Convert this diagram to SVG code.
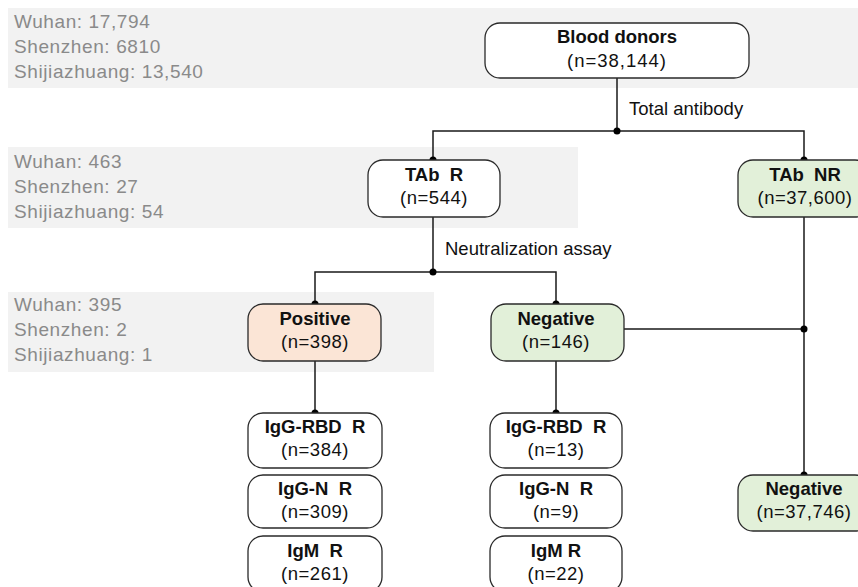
<svg xmlns="http://www.w3.org/2000/svg" width="858" height="587" viewBox="0 0 858 587">
<style>
.band{fill:#f2f2f2}
.gt{font-family:"Liberation Sans",Arial,sans-serif;font-size:19px;fill:#8a8a8a;letter-spacing:0.6px}
.box{stroke:#2a2a2a;stroke-width:1.3}
.w{fill:#ffffff}
.g{fill:#e2f0d9}
.p{fill:#fbe5d6}
.t{font-family:"Liberation Sans",Arial,sans-serif;font-size:18.5px;fill:#111;text-anchor:middle;white-space:pre}
.n{letter-spacing:0.5px}
.b{font-weight:bold}
.lbl{font-family:"Liberation Sans",Arial,sans-serif;font-size:18.5px;fill:#111}
.ln{stroke:#1a1a1a;stroke-width:1.5;fill:none}
.dot{fill:#000}
</style>
<g id="bands">
<rect class="band" x="8" y="8" width="850" height="80"/>
<rect class="band" x="8" y="147" width="570" height="81"/>
<rect class="band" x="8" y="292" width="426" height="80"/>
<text class="gt" x="14" y="28">Wuhan: 17,794</text>
<text class="gt" x="14" y="53">Shenzhen: 6810</text>
<text class="gt" x="14" y="78">Shijiazhuang: 13,540</text>
<text class="gt" x="14" y="168">Wuhan: 463</text>
<text class="gt" x="14" y="193">Shenzhen: 27</text>
<text class="gt" x="14" y="218">Shijiazhuang: 54</text>
<text class="gt" x="14" y="311">Wuhan: 395</text>
<text class="gt" x="14" y="336">Shenzhen: 2</text>
<text class="gt" x="14" y="361">Shijiazhuang: 1</text>
</g>
<g id="connectors">
<path class="ln" d="M617 78V131M433 160V131H804V160"/>
<path class="ln" d="M433 217V272M315 304V272H556V304"/>
<path class="ln" d="M804 217V475M624 329H804"/>
<path class="ln" d="M315 361V413M556 361V413"/>
<circle class="dot" cx="617" cy="131" r="3.5"/>
<circle class="dot" cx="433" cy="160" r="3.5"/>
<circle class="dot" cx="804" cy="160" r="3.5"/>
<circle class="dot" cx="433" cy="272" r="3.5"/>
<circle class="dot" cx="315" cy="304" r="3.5"/>
<circle class="dot" cx="556" cy="304" r="3.5"/>
<circle class="dot" cx="804" cy="329" r="3.5"/>
<circle class="dot" cx="804" cy="475" r="3.5"/>
<circle class="dot" cx="315" cy="413" r="3.5"/>
<circle class="dot" cx="556" cy="413" r="3.5"/>
<text class="lbl" x="629" y="115">Total antibody</text>
<text class="lbl" x="445" y="255">Neutralization assay</text>
</g>
<g id="blood-donors">
<rect class="box w" x="485" y="23" width="264" height="55" rx="15"/>
<text class="t b" x="617" y="43">Blood donors</text>
<text class="t n" x="617" y="67" style="letter-spacing:1px">(n=38,144)</text>
</g>
<g id="tab-r">
<rect class="box w" x="368" y="160" width="132" height="57" rx="15"/>
<text class="t b" x="434" y="181">TAb  R</text>
<text class="t n" x="434" y="204">(n=544)</text>
</g>
<g id="tab-nr">
<rect class="box g" x="738" y="160" width="132" height="57" rx="15"/>
<text class="t b" x="805" y="181">TAb  NR</text>
<text class="t n" x="805" y="204">(n=37,600)</text>
</g>
<g id="positive">
<rect class="box p" x="248" y="304" width="133" height="57" rx="15"/>
<text class="t b" x="315" y="325">Positive</text>
<text class="t n" x="315" y="348">(n=398)</text>
</g>
<g id="negative">
<rect class="box g" x="491" y="304" width="133" height="57" rx="15"/>
<text class="t b" x="556" y="325">Negative</text>
<text class="t n" x="556" y="348">(n=146)</text>
</g>
<g id="negative-total">
<rect class="box g" x="738" y="475" width="132" height="56" rx="15"/>
<text class="t b" x="804" y="495">Negative</text>
<text class="t n" x="804" y="518">(n=37,746)</text>
</g>
<g id="pos-igg-rbd">
<rect class="box w" x="248" y="413" width="134" height="55" rx="15"/>
<text class="t b" x="315" y="433">IgG-RBD  R</text>
<text class="t n" x="315" y="456">(n=384)</text>
</g>
<g id="pos-igg-n">
<rect class="box w" x="248" y="475" width="134" height="53" rx="15"/>
<text class="t b" x="315" y="495">IgG-N  R</text>
<text class="t n" x="315" y="518">(n=309)</text>
</g>
<g id="pos-igm">
<rect class="box w" x="248" y="536" width="134" height="56" rx="15"/>
<text class="t b" x="315" y="557">IgM  R</text>
<text class="t n" x="315" y="580">(n=261)</text>
</g>
<g id="neg-igg-rbd">
<rect class="box w" x="490" y="413" width="132" height="55" rx="15"/>
<text class="t b" x="556" y="433">IgG-RBD  R</text>
<text class="t n" x="556" y="456">(n=13)</text>
</g>
<g id="neg-igg-n">
<rect class="box w" x="490" y="475" width="132" height="53" rx="15"/>
<text class="t b" x="556" y="495">IgG-N  R</text>
<text class="t n" x="556" y="518">(n=9)</text>
</g>
<g id="neg-igm">
<rect class="box w" x="490" y="536" width="132" height="56" rx="15"/>
<text class="t b" x="556" y="557">IgM R</text>
<text class="t n" x="556" y="580">(n=22)</text>
</g>
</svg>
